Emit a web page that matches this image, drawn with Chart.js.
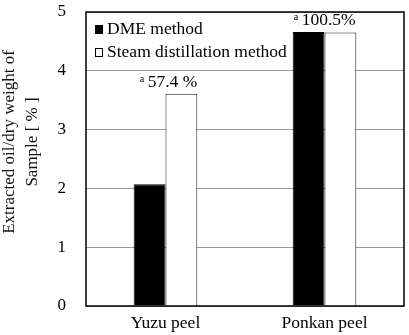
<!DOCTYPE html>
<html lang="en">
<head>
    <meta charset="UTF-8">
    <title>Extracted oil</title>
    <script src="https://cdn.jsdelivr.net/npm/chart.js"></script>
    <style>
        body {
            margin: 0;
            padding: 0;
            background: white;
        }
        .chart-box {
            width: 409px;
            height: 335px;
        }
    </style>
</head>
<body>
    <div class="chart-box">
        <canvas id="oilChart" width="409" height="335"></canvas>
    </div>

    <script>
        const categories = ['Yuzu peel', 'Ponkan peel'];
        const dmeValues = [2.07, 4.66];
        const steamValues = [3.61, 4.65];
        const ratioLabels = ['57.4 %', '100.5%'];
        const seriesNames = ['DME method', 'Steam distillation method'];
        const yTitle = ['Extracted oil/dry weight of', 'Sample [ % ]'];

        const serif = "'Liberation Serif', 'DejaVu Serif', serif";
        const textSize = 17.5;

        // frame round the plot area
        const framePlugin = {
            id: 'frame',
            afterDraw(chart) {
                const { ctx, chartArea: a } = chart;
                ctx.save();
                ctx.strokeStyle = '#000';
                ctx.lineWidth = 1.5;
                ctx.strokeRect(a.left, a.top, a.right - a.left, a.bottom - a.top);
                ctx.restore();
            }
        };

        // y title, two rotated lines, a bit above centre like the original
        const titlePlugin = {
            id: 'yTitle',
            afterDraw(chart) {
                const { ctx } = chart;
                ctx.save();
                ctx.fillStyle = '#111';
                ctx.font = '17px ' + serif;
                ctx.textAlign = 'center';
                ctx.textBaseline = 'middle';
                const xs = [10, 33];
                yTitle.forEach((line, i) => {
                    ctx.save();
                    ctx.translate(xs[i], 142);
                    ctx.rotate(-Math.PI / 2);
                    ctx.fillText(line, 0, 0);
                    ctx.restore();
                });
                ctx.restore();
            }
        };

        // legend inside the plot, top left
        const legendPlugin = {
            id: 'innerLegend',
            afterDraw(chart) {
                const { ctx, chartArea: a } = chart;
                ctx.save();
                ctx.font = textSize + 'px ' + serif;
                ctx.textBaseline = 'alphabetic';
                chart.data.datasets.forEach((ds, i) => {
                    const y = a.top + 22 + i * 23;
                    ctx.fillStyle = ds.backgroundColor;
                    ctx.strokeStyle = '#000';
                    ctx.lineWidth = 1;
                    ctx.fillRect(a.left + 9.5, y - 8.5, 7, 8);
                    ctx.strokeRect(a.left + 9.5, y - 8.5, 7, 8);
                    ctx.fillStyle = '#000';
                    ctx.fillText(ds.label, a.left + 21, y);
                });
                ctx.restore();
            }
        };

        // "a 57.4 %" notes over the bars
        const notePlugin = {
            id: 'notes',
            afterDatasetsDraw(chart) {
                const { ctx } = chart;
                const dme = chart.getDatasetMeta(0).data;
                const steam = chart.getDatasetMeta(1).data;
                ctx.save();
                ctx.fillStyle = '#000';
                ctx.textBaseline = 'alphabetic';
                ratioLabels.forEach((txt, i) => {
                    const top = Math.min(dme[i].y, steam[i].y);
                    const y = top - 6.5;
                    let x;
                    if (i === 0) {
                        ctx.font = textSize + 'px ' + serif;
                        const w = ctx.measureText(txt).width;
                        x = steam[i].x + steam[i].width / 2 - w;
                    } else {
                        x = dme[i].x - dme[i].width / 2 + 9;
                    }
                    ctx.font = '10px ' + serif;
                    ctx.fillText('a', x - 8, y - 5);
                    ctx.font = textSize + 'px ' + serif;
                    ctx.fillText(txt, x, y);
                });
                ctx.restore();
            }
        };

        new Chart(document.getElementById('oilChart'), {
            type: 'bar',
            data: {
                labels: categories,
                datasets: [{
                    label: seriesNames[0],
                    data: dmeValues,
                    backgroundColor: '#000',
                    borderColor: '#000',
                    borderWidth: 1
                }, {
                    label: seriesNames[1],
                    data: steamValues,
                    backgroundColor: '#fff',
                    borderColor: '#222',
                    borderWidth: 1
                }]
            },
            options: {
                responsive: false,
                animation: false,
                layout: {
                    padding: { top: 12, right: 5, left: 0, bottom: 0 }
                },
                categoryPercentage: 0.4,
                barPercentage: 1,
                plugins: {
                    legend: { display: false },
                    tooltip: { enabled: false }
                },
                scales: {
                    x: {
                        grid: { display: false, drawTicks: false },
                        border: { display: false },
                        ticks: {
                            color: '#000',
                            padding: 7,
                            font: { family: serif, size: textSize }
                        },
                        afterFit(scale) {
                            scale.height = 29;
                            scale.paddingLeft = 0;
                            scale.paddingRight = 0;
                        }
                    },
                    y: {
                        min: 0,
                        max: 5,
                        ticks: {
                            stepSize: 1,
                            color: '#000',
                            padding: 20,
                            font: { family: serif, size: 17 }
                        },
                        grid: {
                            color: '#999',
                            lineWidth: 1,
                            drawTicks: false
                        },
                        border: { display: false },
                        afterFit(scale) {
                            scale.width = 86;
                            scale.paddingTop = 0;
                            scale.paddingBottom = 0;
                        }
                    }
                }
            },
            plugins: [framePlugin, titlePlugin, legendPlugin, notePlugin]
        });
    </script>
</body>
</html>
